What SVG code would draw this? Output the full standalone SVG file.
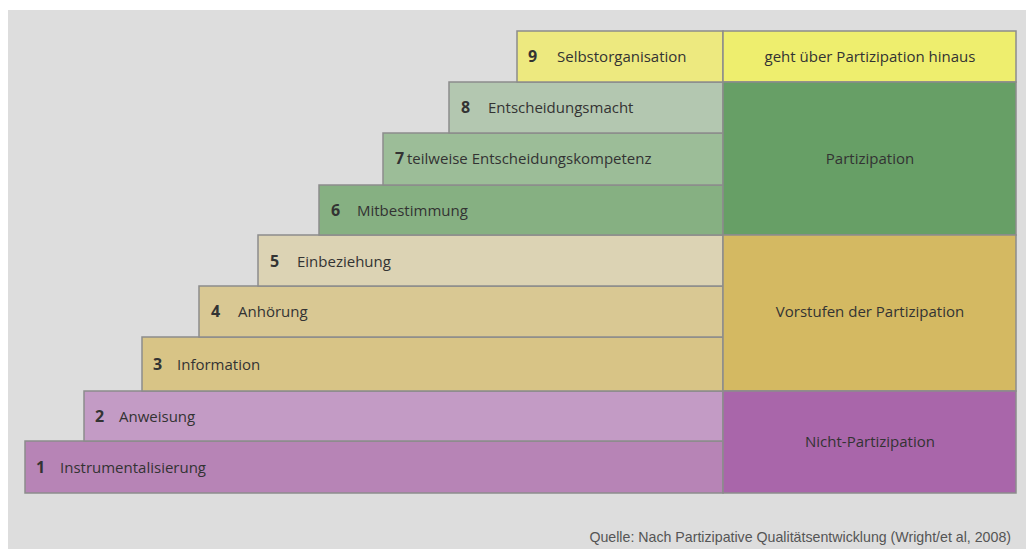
<svg xmlns="http://www.w3.org/2000/svg" width="1026" height="549" viewBox="0 0 1026 549">
<style>
.box{stroke:#8c8c8c;stroke-width:1.5}
.t{font-family:"Open Sans","Noto Sans",sans-serif;font-size:15px;fill:#333}
.n{font-family:"Open Sans","Noto Sans",sans-serif;font-size:16px;font-weight:bold;fill:#333}
.c{font-family:"Open Sans","Noto Sans",sans-serif;font-size:15px;fill:#333;text-anchor:middle}
.src{font-family:"Liberation Sans",Arial,sans-serif;font-size:14.2px;fill:#555;text-anchor:end}
</style>
<rect x="0" y="0" width="1026" height="549" fill="#ffffff"/>
<rect x="8" y="10" width="1018" height="539" fill="#dddddd"/>
<g id="step1"><rect class="box" x="25" y="441" width="698" height="52" fill="#b784b6"/><text class="n" x="36" y="473">1</text><text class="t" x="60" y="473">Instrumentalisierung</text></g>
<g id="step2"><rect class="box" x="84" y="391" width="639" height="50" fill="#c39bc5"/><text class="n" x="95" y="422">2</text><text class="t" x="119" y="422">Anweisung</text></g>
<g id="step3"><rect class="box" x="142" y="337" width="581" height="54" fill="#d8c486"/><text class="n" x="153" y="370">3</text><text class="t" x="177" y="370">Information</text></g>
<g id="step4"><rect class="box" x="199" y="286" width="524" height="51" fill="#d9c893"/><text class="n" x="211" y="317">4</text><text class="t" x="238" y="317">Anhörung</text></g>
<g id="step5"><rect class="box" x="258" y="235" width="465" height="51" fill="#dcd3b4"/><text class="n" x="270" y="267">5</text><text class="t" x="297" y="267">Einbeziehung</text></g>
<g id="step6"><rect class="box" x="319" y="185" width="404" height="50" fill="#86b082"/><text class="n" x="331" y="216">6</text><text class="t" x="357" y="216">Mitbestimmung</text></g>
<g id="step7"><rect class="box" x="383" y="133" width="340" height="52" fill="#9cbd98"/><text class="n" x="395" y="164">7</text><text class="t" x="407" y="164">teilweise Entscheidungskompetenz</text></g>
<g id="step8"><rect class="box" x="449" y="82" width="274" height="51" fill="#b3c7b0"/><text class="n" x="461" y="113">8</text><text class="t" x="488" y="113">Entscheidungsmacht</text></g>
<g id="step9"><rect class="box" x="517" y="31" width="206" height="51" fill="#ede97f"/><text class="n" x="528" y="62">9</text><text class="t" x="557" y="62">Selbstorganisation</text></g>
<g id="cat-hinaus"><rect class="box" x="723" y="31" width="293" height="51" fill="#eeee6e"/><text class="c" x="870" y="62">geht über Partizipation hinaus</text></g>
<g id="cat-partizipation"><rect class="box" x="723" y="82" width="293" height="153" fill="#679f66"/><text class="c" x="870" y="164">Partizipation</text></g>
<g id="cat-vorstufen"><rect class="box" x="723" y="235" width="293" height="156" fill="#d4b962"/><text class="c" x="870" y="317">Vorstufen der Partizipation</text></g>
<g id="cat-nicht"><rect class="box" x="723" y="391" width="293" height="102" fill="#a966aa"/><text class="c" x="870" y="447">Nicht-Partizipation</text></g>
<g id="connectors"></g>
<text class="src" x="1011" y="542">Quelle: Nach Partizipative Qualitätsentwicklung (Wright/et al, 2008)</text>
</svg>
